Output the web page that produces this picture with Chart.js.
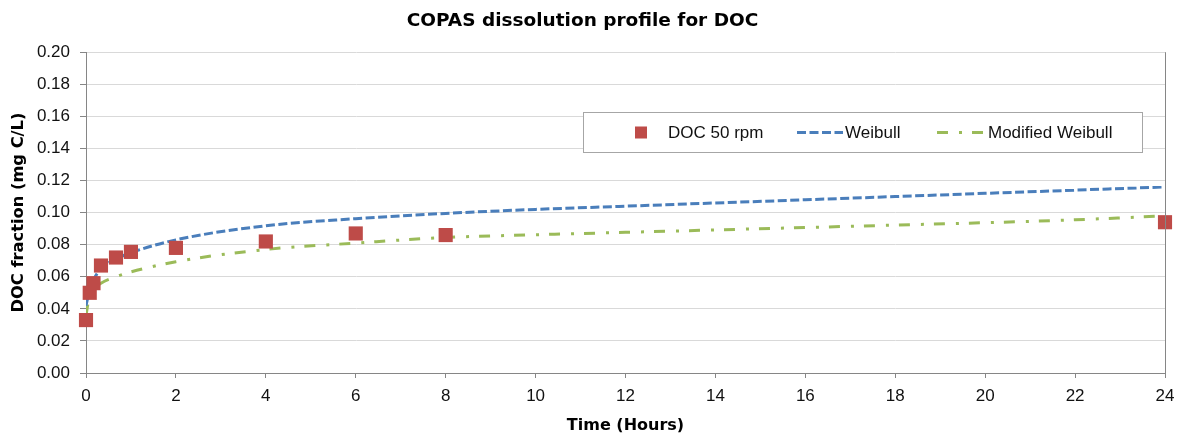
<!DOCTYPE html>
<html>
<head>
<meta charset="utf-8">
<script src="https://cdn.jsdelivr.net/npm/chart.js@4"></script>
<style>
html, body { margin: 0; padding: 0; background: #fff; }
#wrap { width: 1186px; height: 435px; position: relative; }
</style>
</head>
<body>
<div id="wrap"><canvas id="myChart"></canvas></div>
<script>
// measured DOC fractions (mg C/L) at sampling times (hours)
var obsTimes = [0, 0.083, 0.167, 0.333, 0.667, 1, 2, 4, 6, 8, 24];
var docValues = [0.033, 0.050, 0.056, 0.067, 0.072, 0.0755, 0.078, 0.082, 0.087, 0.086, 0.094];

// fitted model curves
var fitTimes = [0, 0.083, 0.167, 0.333, 0.667, 1, 2, 4, 6, 8, 10, 12, 14, 16, 18, 20, 22, 24];
var weibullValues = [0.042, 0.052, 0.058, 0.065, 0.071, 0.075, 0.083, 0.0918, 0.0962, 0.0995, 0.102, 0.104, 0.106, 0.108, 0.110, 0.112, 0.114, 0.116];
var modWeibullValues = [0.036, 0.049, 0.052, 0.056, 0.060, 0.063, 0.0694, 0.077, 0.081, 0.0845, 0.0862, 0.0877, 0.0892, 0.0907, 0.0922, 0.0937, 0.0955, 0.098];

var seriesNames = ["DOC 50 rpm", "Weibull", "Modified Weibull"];

function toPoints(xs, ys) {
    return xs.map((x, i) => ({ x: x, y: ys[i] }));
}

var axisGray = "#868686";
var textColor = "#111";

// legend drawn as a framed box inside the plot, like the original
const boxedLegend = {
    id: "boxedLegend",
    afterDraw(chart) {
        const ctx = chart.ctx;
        const area = chart.chartArea;
        const ds = chart.data.datasets;
        ctx.save();

        // right edge of plot area
        ctx.strokeStyle = axisGray;
        ctx.lineWidth = 1;
        ctx.beginPath();
        ctx.moveTo(Math.round(area.right) + 0.5, area.top);
        ctx.lineTo(Math.round(area.right) + 0.5, area.bottom);
        ctx.stroke();

        // frame
        const bx = 583.5, by = 112.5, bw = 559, bh = 40;
        ctx.fillStyle = "#fff";
        ctx.fillRect(bx, by, bw, bh);
        ctx.strokeStyle = "#a6a6a6";
        ctx.strokeRect(bx, by, bw, bh);

        const cy = by + bh / 2;
        ctx.font = '17px "Liberation Sans"';
        ctx.textBaseline = "middle";
        ctx.textAlign = "left";

        // marker item
        ctx.fillStyle = ds[0].backgroundColor;
        ctx.fillRect(635, cy - 6, 12, 12);
        ctx.fillStyle = textColor;
        ctx.fillText(ds[0].label, 668, cy + 1);

        // line items
        [[1, 797, 843, 845], [2, 937, 985, 988]].forEach(([i, x0, x1, tx]) => {
            ctx.strokeStyle = ds[i].borderColor;
            ctx.lineWidth = ds[i].borderWidth;
            ctx.setLineDash(ds[i].borderDash);
            ctx.beginPath();
            ctx.moveTo(x0, cy);
            ctx.lineTo(x1, cy);
            ctx.stroke();
            ctx.setLineDash([]);
            ctx.fillStyle = textColor;
            ctx.fillText(ds[i].label, tx, cy + 1);
        });
        ctx.restore();
    }
};

const data = {
    datasets: [
        {
            label: seriesNames[0],
            data: toPoints(obsTimes, docValues),
            showLine: false,
            clip: false,
            pointStyle: "rect",
            pointRadius: 10,
            pointHoverRadius: 10,
            backgroundColor: "#be4b48",
            borderColor: "#be4b48",
            borderWidth: 0
        },
        {
            label: seriesNames[1],
            data: toPoints(fitTimes, weibullValues),
            showLine: true,
            pointRadius: 0,
            borderColor: "#4a7ebb",
            backgroundColor: "#4a7ebb",
            borderWidth: 3,
            borderDash: [9, 3.5],
            cubicInterpolationMode: "monotone"
        },
        {
            label: seriesNames[2],
            data: toPoints(fitTimes, modWeibullValues),
            showLine: true,
            pointRadius: 0,
            borderColor: "#9bbb59",
            backgroundColor: "#9bbb59",
            borderWidth: 3,
            borderDash: [11, 11, 3, 10],
            cubicInterpolationMode: "monotone"
        }
    ]
};

const config = {
    type: "scatter",
    data: data,
    options: {
        responsive: true,
        maintainAspectRatio: false,
        animation: false,
        layout: { padding: { left: 0, right: 21, top: 0, bottom: 0 } },
        plugins: {
            legend: { display: false },
            tooltip: { enabled: false },
            title: {
                display: true,
                text: "COPAS dissolution profile for DOC",
                color: "#000",
                font: { family: "DejaVu Sans", size: 18.5, weight: "bold" },
                padding: { top: 10, bottom: 20 }
            }
        },
        scales: {
            x: {
                type: "linear",
                min: 0,
                max: 24,
                ticks: {
                    stepSize: 2,
                    color: textColor,
                    padding: 8,
                    font: { family: "Liberation Sans", size: 17 }
                },
                grid: { drawOnChartArea: false, tickLength: 5, tickColor: axisGray },
                border: { color: axisGray },
                title: {
                    display: true,
                    text: "Time (Hours)",
                    color: "#000",
                    font: { family: "DejaVu Sans", size: 16, weight: "bold" },
                    padding: { top: 0, bottom: 0 }
                },
                afterFit(scale) { scale.height = 62; }
            },
            y: {
                min: 0,
                max: 0.2,
                ticks: {
                    stepSize: 0.02,
                    color: textColor,
                    padding: 10,
                    font: { family: "Liberation Sans", size: 17 },
                    callback: v => v.toFixed(2)
                },
                grid: { color: "#d9d9d9", tickLength: 6, tickColor: axisGray },
                border: { color: axisGray },
                title: {
                    display: true,
                    text: "DOC fraction (mg C/L)",
                    color: "#000",
                    font: { family: "DejaVu Sans", size: 16.3, weight: "bold" },
                    padding: { top: 9, bottom: 0 }
                },
                afterFit(scale) { scale.width = 86; }
            }
        }
    },
    plugins: [boxedLegend]
};
const myChart = new Chart(document.getElementById("myChart"), config);
</script>
</body>
</html>
